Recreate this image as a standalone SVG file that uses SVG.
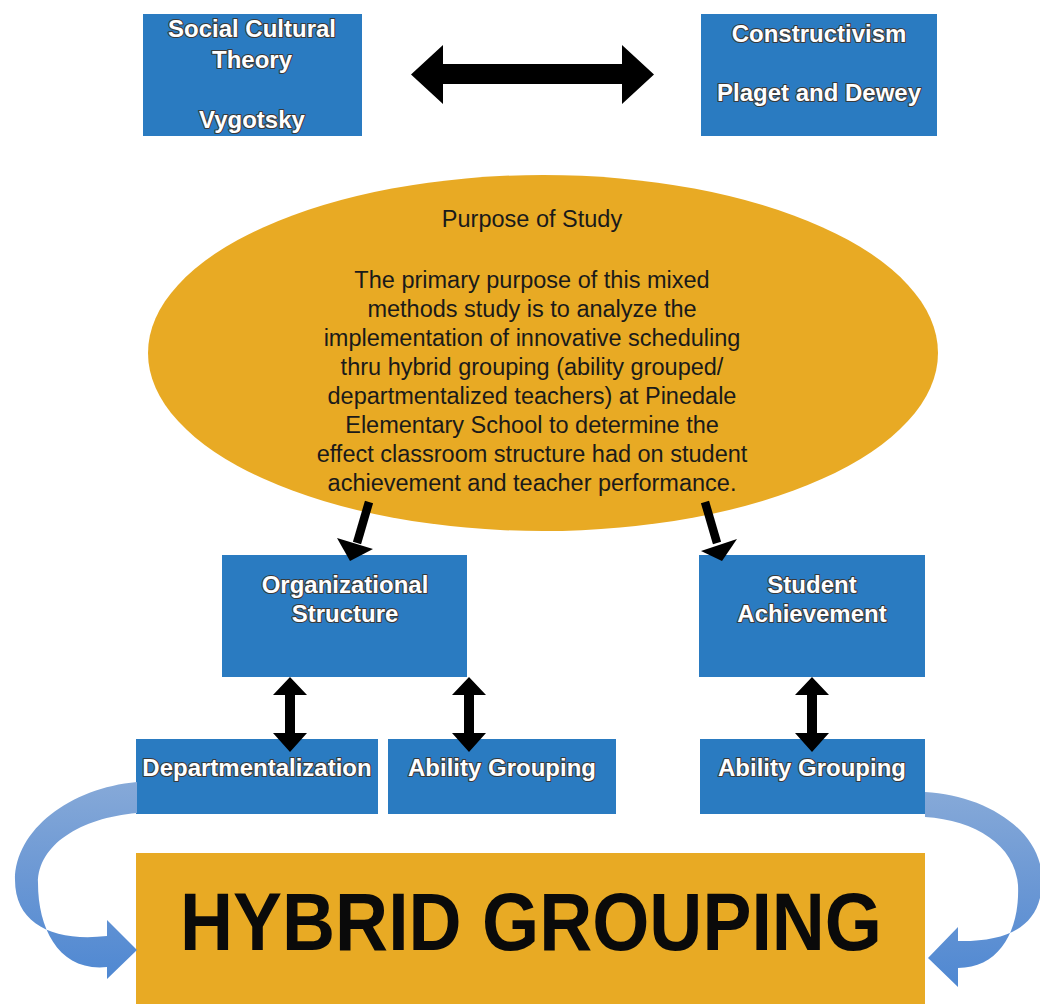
<svg xmlns="http://www.w3.org/2000/svg" width="1040" height="1004" viewBox="0 0 1040 1004">
<style>
.box{fill:#2A7BC1;}
.gold{fill:#E8AA24;}
.bt{font-family:"Liberation Sans",Arial,sans-serif;font-weight:bold;font-size:24px;fill:#ffffff;stroke:#3a3a3a;stroke-width:2.2px;paint-order:stroke;stroke-linejoin:round;text-anchor:middle;}
.et{font-family:"Liberation Sans",Arial,sans-serif;font-size:23.5px;fill:#1a1a1a;text-anchor:middle;}
.ht{font-family:"Liberation Sans",Arial,sans-serif;font-weight:bold;font-size:82px;fill:#0a0a0a;text-anchor:middle;}
.arr{fill:#000000;}
.line{stroke:#000000;stroke-width:8.5;fill:none;}
.curve{fill:url(#cg);}
</style>
<defs>
<linearGradient id="cg" x1="0" y1="0" x2="0" y2="1">
<stop offset="0" stop-color="#86A9D8"/>
<stop offset="0.5" stop-color="#6A97D4"/>
<stop offset="1" stop-color="#4F88D2"/>
</linearGradient>
</defs>
<rect width="1040" height="1004" fill="#ffffff"/>

<g id="node-social">
<rect class="box" x="143" y="14" width="219" height="122"/>
<text class="bt" x="252" y="37">Social Cultural</text>
<text class="bt" x="252" y="68">Theory</text>
<text class="bt" x="252" y="128">Vygotsky</text>
</g>

<g id="node-constructivism">
<rect class="box" x="701" y="14" width="236" height="122"/>
<text class="bt" x="819" y="42">Constructivism</text>
<text class="bt" x="819" y="101">Plaget and Dewey</text>
</g>

<g id="node-purpose">
<ellipse class="gold" cx="543" cy="353" rx="395" ry="178"/>
<text class="et" x="532" y="227">Purpose of Study</text>
<text class="et" x="532" y="288">The primary purpose of this mixed</text>
<text class="et" x="532" y="317">methods study is to analyze the</text>
<text class="et" x="532" y="346">implementation of innovative scheduling</text>
<text class="et" x="532" y="375">thru hybrid grouping (ability grouped/</text>
<text class="et" x="532" y="404">departmentalized teachers) at Pinedale</text>
<text class="et" x="532" y="433">Elementary School to determine the</text>
<text class="et" x="532" y="462">effect classroom structure had on student</text>
<text class="et" x="532" y="491">achievement and teacher performance.</text>
</g>

<g id="node-org">
<rect class="box" x="222" y="555" width="245" height="122"/>
<text class="bt" x="345" y="593">Organizational</text>
<text class="bt" x="345" y="622">Structure</text>
</g>

<g id="node-student">
<rect class="box" x="699" y="555" width="226" height="122"/>
<text class="bt" x="812" y="593">Student</text>
<text class="bt" x="812" y="622">Achievement</text>
</g>

<g id="node-dept">
<rect class="box" x="136" y="739" width="242" height="75"/>
<text class="bt" x="257" y="776">Departmentalization</text>
</g>

<g id="node-ability1">
<rect class="box" x="388" y="739" width="228" height="75"/>
<text class="bt" x="502" y="776">Ability Grouping</text>
</g>

<g id="node-ability2">
<rect class="box" x="700" y="739" width="225" height="75"/>
<text class="bt" x="812" y="776">Ability Grouping</text>
</g>

<g id="node-hybrid">
<rect class="gold" x="136" y="853" width="789" height="151"/>
<text class="ht" x="531" y="950" textLength="702" lengthAdjust="spacingAndGlyphs">HYBRID GROUPING</text>
</g>

<g id="connectors">
<polygon class="arr" points="411,74.5 443,45 443,64 622,64 622,45 654,74.5 622,104 622,84 443,84 443,104"/>
<line class="line" x1="369" y1="502" x2="357" y2="543"/>
<polygon class="arr" points="337,538 373,549 350,561"/>
<line class="line" x1="705" y1="502" x2="717" y2="543"/>
<polygon class="arr" points="701,551 737,539 722,561"/>
<polygon class="arr" points="290,677 307,695 295,695 295,733 307,733 290,752 273,733 285,733 285,695 273,695"/>
<polygon class="arr" points="469,677 486,695 474,695 474,733 486,733 469,752 452,733 464,733 464,695 452,695"/>
<polygon class="arr" points="812,677 829,695 817,695 817,733 829,733 812,752 795,733 807,733 807,695 795,695"/>
<path class="curve" d="M137,782 C70,788 15,830 15,880 C15,925 55,942 107,936 L107,920 L137,950 L107,979 L107,967 C60,972 38,930 38,883 C38,845 80,818 137,813 Z"/>
<path class="curve" d="M925,792 C985,795 1042,830 1042,880 C1042,925 1010,942 958,941 L958,927 L928,958 L958,987 L958,968 C1000,968 1020,930 1018,885 C1015,845 975,820 925,817 Z"/>
</g>
</svg>
